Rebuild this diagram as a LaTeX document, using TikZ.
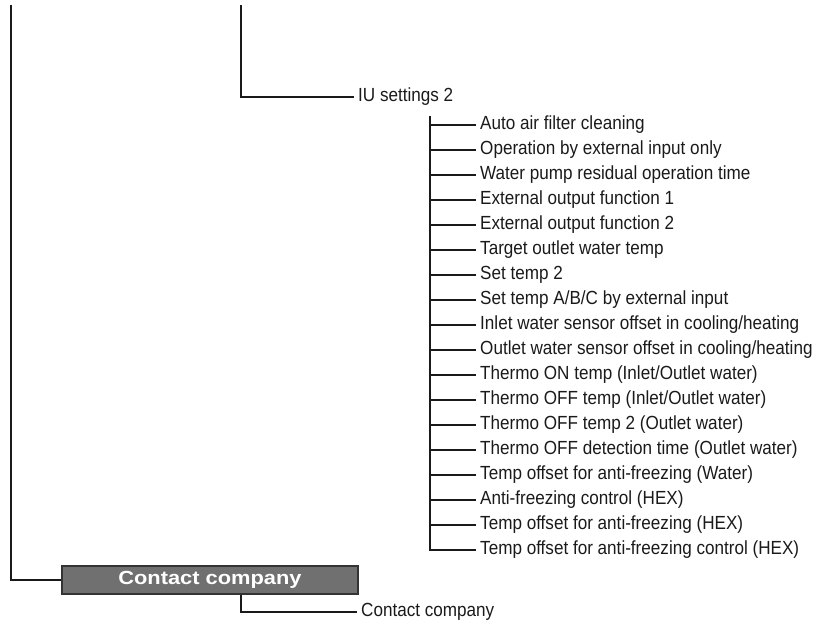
\documentclass[tikz,border=0pt]{standalone}
\usepackage{fontspec}
\setmainfont[FakeStretch=0.9]{Liberation Sans}
\newfontfamily\headfont[FakeStretch=1.15]{Liberation Sans}
\usepackage{tikz}
\usetikzlibrary{positioning,calc}
\definecolor{mn-ink}{HTML}{1A1A1A}
\definecolor{mn-box}{HTML}{707070}
\definecolor{mn-edge}{HTML}{333333}
\tikzset{
  menuline/.style={mn-ink,line width=1.2pt},
  menuitem/.style={anchor=west,inner xsep=4pt,inner ysep=0pt,text=mn-ink,font=\fontsize{19}{19}\selectfont},
  menuhead/.style={draw=mn-edge,line width=1.2pt,fill=mn-box,text=white,
    minimum width=296pt,minimum height=28pt,inner sep=0pt,
    font=\headfont\fontsize{19}{19}\selectfont\bfseries}
}
\begin{document}
\begin{tikzpicture}[x=1pt,y=-1pt]
\useasboundingbox (0,0) rectangle (819,630);

% ============ upper branch: IU settings 2 ============
\coordinate (iutop) at (241,5);
\node[menuitem] (iu) at (354,97) {IU settings 2};
\draw[menuline] (iutop) |- (iu.west);

% ============ IU settings 2 sub-items ============
\coordinate (subtop) at (430,116);
\foreach \txt [count=\i] in {
  Auto air filter cleaning,
  Operation by external input only,
  Water pump residual operation time,
  External output function 1,
  External output function 2,
  Target outlet water temp,
  Set temp 2,
  Set temp A/B/C by external input,
  Inlet water sensor offset in cooling/heating,
  Outlet water sensor offset in cooling/heating,
  Thermo ON temp (Inlet/Outlet water),
  Thermo OFF temp (Inlet/Outlet water),
  Thermo OFF temp 2 (Outlet water),
  Thermo OFF detection time (Outlet water),
  Temp offset for anti-freezing (Water),
  Anti-freezing control (HEX),
  Temp offset for anti-freezing (HEX),
  Temp offset for anti-freezing control (HEX)}
{
  \node[menuitem] (s\i) at (476,{125+(\i-1)*25}) {\txt};
  \draw[menuline] (s\i.west -| subtop) -- (s\i.west);
}
\draw[menuline] (subtop) |- (s18.west);

% ============ lower branch: Contact company ============
\coordinate (ltop) at (11,5);
\node[menuhead] (cbox) at (210,580) {Contact company};
\draw[menuline] (ltop) |- (cbox.west);
\node[menuitem] (cc) at (357,612) {Contact company};
\draw[menuline] (cbox.south -| iutop) |- (cc.west);

\end{tikzpicture}
\end{document}
